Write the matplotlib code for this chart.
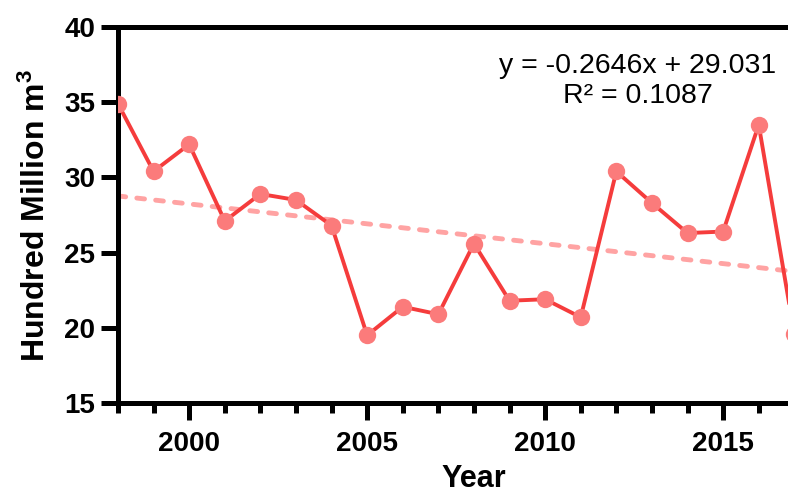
import numpy as np
import matplotlib
matplotlib.use("Agg")
import matplotlib.pyplot as plt
from matplotlib.ticker import MultipleLocator

plt.rcParams['font.family'] = ['Liberation Sans', 'DejaVu Sans']
plt.rcParams['mathtext.fontset'] = 'custom'
plt.rcParams['mathtext.rm'] = 'Liberation Sans'
plt.rcParams['mathtext.bf'] = 'Liberation Sans:bold'

# ---data---
years = np.arange(1998, 2018)
volume = [34.9, 30.4, 32.2, 27.1, 28.9, 28.5, 26.8, 19.5, 21.4, 20.9,
          25.6, 21.8, 21.9, 20.7, 30.4, 28.3, 26.3, 26.4, 33.5, 19.6]
slope = -0.2646
intercept = 29.031
r2 = 0.1087

# linear trend, x = 1..n
idx = np.arange(1, len(years) + 1)
trend = slope * idx + intercept

fig = plt.figure(figsize=(7.88, 4.94), dpi=100)
ax = fig.add_axes([0.1497, 0.1842, 0.9035, 0.7611])

ax.plot(years, trend, ls=(0, (1.6, 2.3)), lw=3.5, color='#ffa3a3',
        dash_capstyle='round', zorder=2)
ax.plot(years, volume, color='#f53c3c', lw=2.8, zorder=3)
ax.plot(years, volume, 'o', ms=12.5, color='#fb7b7b', mec='none', zorder=4)

ax.set_xlim(1998, 2018)
ax.set_ylim(15, 40)
ax.xaxis.set_major_locator(MultipleLocator(5))
ax.xaxis.set_minor_locator(MultipleLocator(1))
ax.yaxis.set_major_locator(MultipleLocator(5))

for side in ['left', 'bottom', 'top', 'right']:
    ax.spines[side].set_linewidth(3.6)
ax.tick_params(axis='both', which='major', length=12.5, width=3.6,
               labelsize=20)
ax.tick_params(axis='x', which='major', pad=8)
ax.tick_params(axis='y', which='major', pad=4)
ax.tick_params(axis='x', which='minor', length=7, width=3.6)
for lab in ax.get_xticklabels() + ax.get_yticklabels():
    lab.set_fontweight('bold')

ax.set_xlabel('Year', fontsize=22, fontweight='bold', labelpad=5)
ax.set_ylabel(r'Hundred Million $\mathbf{m^3}$', fontsize=23,
              fontweight='bold', labelpad=9)

fig.text(638 / 788, 1 - 66 / 494, f'y = {slope}x + {intercept}',
         ha='center', va='center', fontsize=20.5)
fig.text(638 / 788, 1 - 96 / 494, f'R² = {r2}',
         ha='center', va='center', fontsize=20.5)

fig.savefig('out.png', dpi=100)
